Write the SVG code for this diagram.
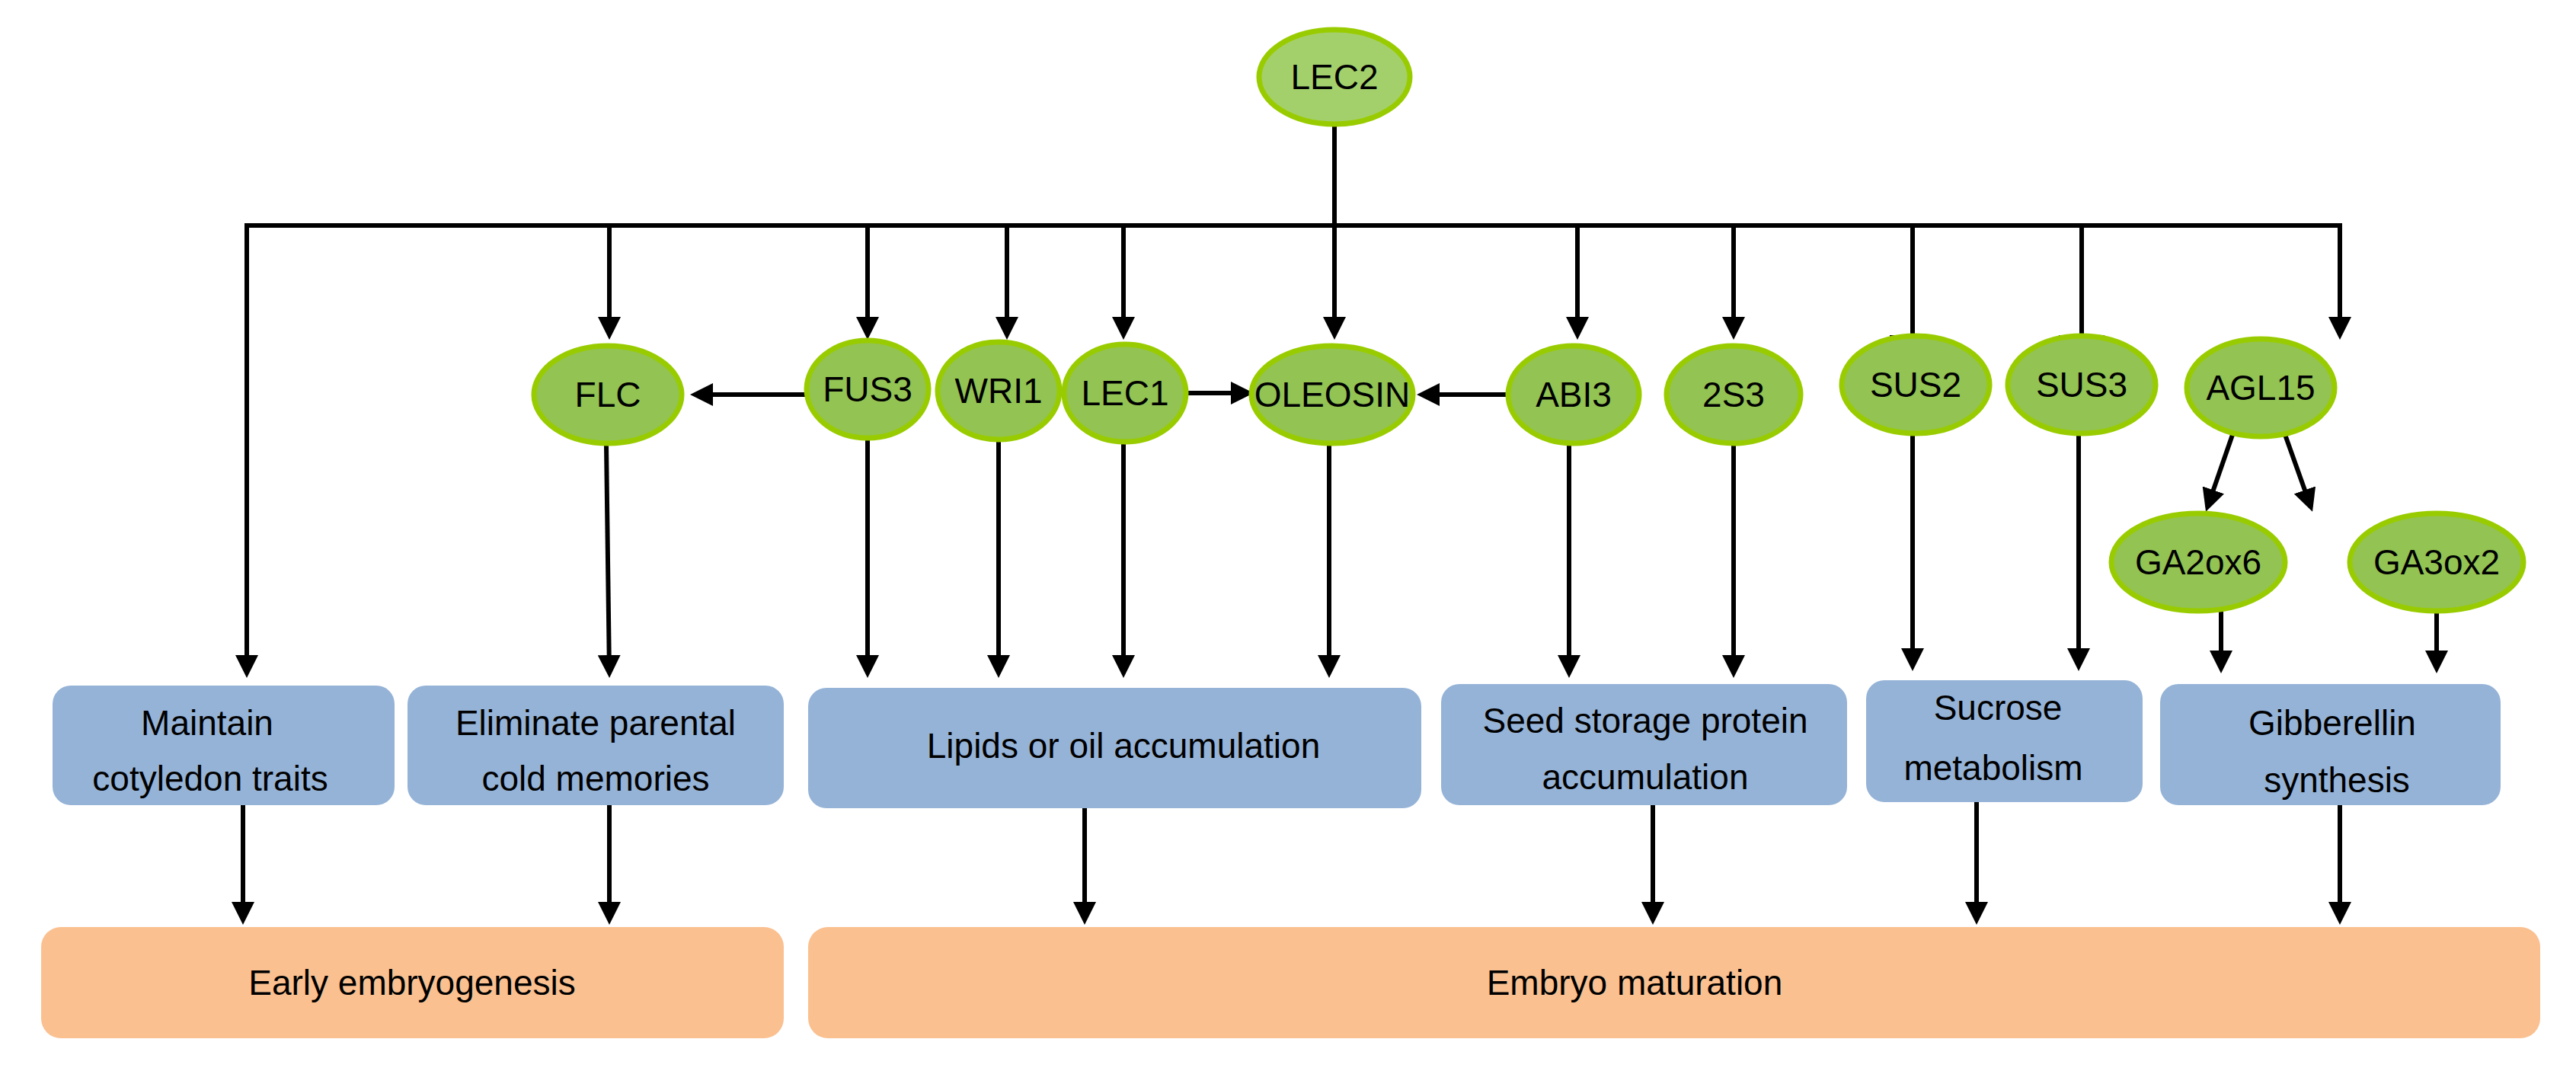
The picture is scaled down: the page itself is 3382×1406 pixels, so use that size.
<svg xmlns="http://www.w3.org/2000/svg" width="3382" height="1406" viewBox="0 0 3382 1406">
<style>
.n ellipse{fill:#92c353;stroke:#99cc00;stroke-width:7}
.b rect{fill:#95b3d7}
.o rect{fill:#fac090}
text{font-family:"Liberation Sans",Arial,sans-serif;font-size:46px;fill:#000;text-anchor:middle}
.c line,.c path{stroke:#000;stroke-width:6;fill:none}
</style>
<defs>
<marker id="a" markerWidth="5" markerHeight="5" refX="4" refY="2.5" orient="auto" markerUnits="strokeWidth"><path d="M0,0L5,2.5L0,5z" fill="#000"/></marker>
</defs>
<g class="c">
<line x1="1752" y1="165" x2="1752" y2="296"/>
<path d="M324,884V296H3072V440" marker-end="url(#a)"/>
<line x1="800" y1="296" x2="800" y2="440" marker-end="url(#a)"/>
<line x1="1139" y1="296" x2="1139" y2="440" marker-end="url(#a)"/>
<line x1="1322" y1="296" x2="1322" y2="440" marker-end="url(#a)"/>
<line x1="1475" y1="296" x2="1475" y2="440" marker-end="url(#a)"/>
<line x1="1752" y1="296" x2="1752" y2="440" marker-end="url(#a)"/>
<line x1="2071" y1="296" x2="2071" y2="440" marker-end="url(#a)"/>
<line x1="2276" y1="296" x2="2276" y2="440" marker-end="url(#a)"/>
<line x1="2511" y1="296" x2="2511" y2="443"/>
<line x1="2481" y1="443" x2="2541" y2="443"/>
<line x1="2733" y1="296" x2="2733" y2="443"/>
<line x1="2703" y1="443" x2="2763" y2="443"/>
<path d="M324,296V884" marker-end="url(#a)"/>
<line x1="1057" y1="518" x2="912" y2="518" marker-end="url(#a)"/>
<line x1="1560" y1="516" x2="1640" y2="516" marker-end="url(#a)"/>
<line x1="1980" y1="518" x2="1866" y2="518" marker-end="url(#a)"/>
<line x1="2933" y1="565" x2="2898" y2="666" marker-end="url(#a)"/>
<line x1="2998" y1="565" x2="3034" y2="666" marker-end="url(#a)"/>
<line x1="796" y1="584" x2="800" y2="884" marker-end="url(#a)"/>
<line x1="1139" y1="576" x2="1139" y2="884" marker-end="url(#a)"/>
<line x1="1311" y1="578" x2="1311" y2="884" marker-end="url(#a)"/>
<line x1="1475" y1="581" x2="1475" y2="884" marker-end="url(#a)"/>
<line x1="1745" y1="583" x2="1745" y2="884" marker-end="url(#a)"/>
<line x1="2060" y1="583" x2="2060" y2="884" marker-end="url(#a)"/>
<line x1="2276" y1="583" x2="2276" y2="884" marker-end="url(#a)"/>
<line x1="2511" y1="568" x2="2511" y2="875" marker-end="url(#a)"/>
<line x1="2729" y1="568" x2="2729" y2="875" marker-end="url(#a)"/>
<line x1="2916" y1="801" x2="2916" y2="878" marker-end="url(#a)"/>
<line x1="3199" y1="801" x2="3199" y2="878" marker-end="url(#a)"/>
<line x1="319" y1="1057" x2="319" y2="1208" marker-end="url(#a)"/>
<line x1="800" y1="1057" x2="800" y2="1208" marker-end="url(#a)"/>
<line x1="1424" y1="1061" x2="1424" y2="1208" marker-end="url(#a)"/>
<line x1="2170" y1="1057" x2="2170" y2="1208" marker-end="url(#a)"/>
<line x1="2595" y1="1053" x2="2595" y2="1208" marker-end="url(#a)"/>
<line x1="3072" y1="1057" x2="3072" y2="1208" marker-end="url(#a)"/>
</g>
<g id="LEC2" class="n"><ellipse cx="1752" cy="101" rx="99" ry="62" style="fill:#a4d06c"/><text x="1752" y="117">LEC2</text></g>
<g id="FLC" class="n"><ellipse cx="798" cy="518" rx="97" ry="64"/><text x="798" y="534">FLC</text></g>
<g id="FUS3" class="n"><ellipse cx="1139" cy="511" rx="80" ry="64"/><text x="1139" y="527">FUS3</text></g>
<g id="WRI1" class="n"><ellipse cx="1311" cy="513" rx="80" ry="64"/><text x="1311" y="529">WRI1</text></g>
<g id="LEC1" class="n"><ellipse cx="1477" cy="516" rx="80" ry="64"/><text x="1477" y="532">LEC1</text></g>
<g id="OLEOSIN" class="n"><ellipse cx="1749" cy="518" rx="106" ry="64"/><text x="1749" y="534">OLEOSIN</text></g>
<g id="ABI3" class="n"><ellipse cx="2066" cy="518" rx="86" ry="64"/><text x="2066" y="534">ABI3</text></g>
<g id="2S3" class="n"><ellipse cx="2276" cy="518" rx="88" ry="64"/><text x="2276" y="534">2S3</text></g>
<g id="SUS2" class="n"><ellipse cx="2515" cy="505" rx="97" ry="64"/><text x="2515" y="521">SUS2</text></g>
<g id="SUS3" class="n"><ellipse cx="2733" cy="505" rx="97" ry="64"/><text x="2733" y="521">SUS3</text></g>
<g id="AGL15" class="n"><ellipse cx="2968" cy="509" rx="97" ry="64"/><text x="2968" y="525">AGL15</text></g>
<g id="GA2ox6" class="n"><ellipse cx="2886" cy="738" rx="114" ry="64"/><text x="2886" y="754">GA2ox6</text></g>
<g id="GA3ox2" class="n"><ellipse cx="3199" cy="738" rx="114" ry="64"/><text x="3199" y="754">GA3ox2</text></g>
<g id="b1" class="b"><rect x="69" y="900" width="449" height="157" rx="24"/><text x="272" y="965">Maintain</text><text x="276" y="1038">cotyledon traits</text></g>
<g id="b2" class="b"><rect x="535" y="900" width="494" height="157" rx="24"/><text x="782" y="965">Eliminate parental</text><text x="782" y="1038">cold memories</text></g>
<g id="b3" class="b"><rect x="1061" y="903" width="805" height="158" rx="24"/><text x="1475" y="995">Lipids or oil accumulation</text></g>
<g id="b4" class="b"><rect x="1892" y="898" width="533" height="159" rx="24"/><text x="2160" y="962">Seed storage protein</text><text x="2160" y="1036">accumulation</text></g>
<g id="b5" class="b"><rect x="2450" y="893" width="363" height="160" rx="24"/><text x="2623" y="945">Sucrose</text><text x="2617" y="1024">metabolism</text></g>
<g id="b6" class="b"><rect x="2836" y="898" width="447" height="159" rx="24"/><text x="3062" y="965">Gibberellin</text><text x="3068" y="1040">synthesis</text></g>
<g id="early" class="o"><rect x="54" y="1217" width="975" height="146" rx="26"/><text x="541" y="1306">Early embryogenesis</text></g>
<g id="mat" class="o"><rect x="1061" y="1217" width="2274" height="146" rx="26"/><text x="2146" y="1306">Embryo maturation</text></g>
</svg>
